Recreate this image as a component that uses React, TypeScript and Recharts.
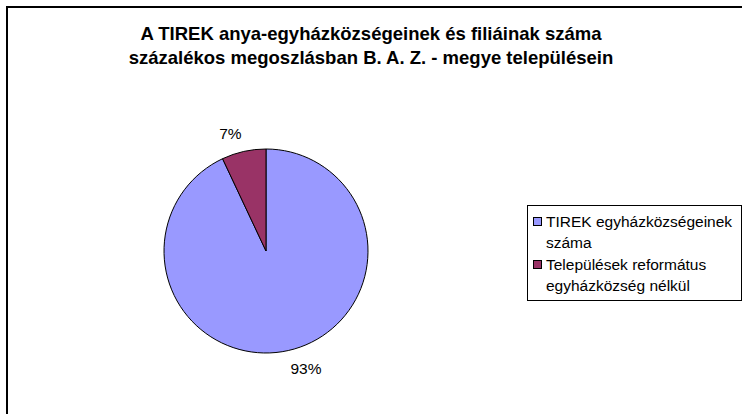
import { Legend, Pie, PieChart, Cell } from "recharts";

const categories = ["TIREK egyházközségeinek száma", "Települések református egyházközség nélkül"];
const values = [93, 7];
const colors = ["#9999FF", "#993366"];
const titleLines = [
	"A TIREK anya-egyházközségeinek és filiáinak száma",
	"százalékos megoszlásban B. A. Z. - megye településein",
];

const data = categories.map((name, i) => ({ name, value: values[i] }));

const FONT = "'Liberation Sans', Arial, sans-serif";
const LABEL_SIZE = 15.5;

const RADIAN = Math.PI / 180;

// excel style: label box sits outside the pie, its nearest corner on the mid-angle ray
const renderLabel = (props: any) => {
	const { cx, cy, midAngle, outerRadius, value } = props;
	const text = `${value}%`;
	const w = (text.length - 1) * 0.556 * LABEL_SIZE + 0.889 * LABEL_SIZE;
	const h = LABEL_SIZE;
	const cos = Math.cos(-midAngle * RADIAN);
	const sin = Math.sin(-midAngle * RADIAN);
	const r = outerRadius + 10;
	const x = cx + r * cos + Math.sign(cos) * (w / 2);
	const y = cy + r * sin + Math.sign(sin) * (h / 2);
	return (
		<text
			x={x}
			y={y}
			textAnchor="middle"
			dominantBaseline="central"
			fontFamily={FONT}
			fontSize={LABEL_SIZE}
			fill="#000"
		>
			{text}
		</text>
	);
};

const renderLegend = () => (
	<div
		style={{
			border: "1px solid #000",
			background: "#fff",
			padding: "5px 0 4px 5px",
			fontFamily: FONT,
			fontSize: 15.5,
			lineHeight: "21px",
			color: "#000",
			boxSizing: "border-box",
			width: 215,
		}}
	>
		{data.map((d, i) => (
			<div key={d.name} style={{ display: "flex", alignItems: "flex-start", marginBottom: i === 0 ? 1 : 0 }}>
				<span
					style={{
						display: "inline-block",
						width: 7,
						height: 7,
						background: colors[i],
						border: "1px solid #000",
						marginTop: 6,
						marginRight: 4,
						flexShrink: 0,
					}}
				/>
				<span style={{ width: 195 }}>{d.name}</span>
			</div>
		))}
	</div>
);

export default function App() {
	return (
		<div
			style={{
				position: "absolute",
				left: 0,
				top: 0,
				width: 742,
				height: 414,
				overflow: "hidden",
				background: "#fff",
			}}
		>
			<div
				style={{
					position: "absolute",
					left: 6,
					top: 6,
					width: 800,
					height: 500,
					borderTop: "2px solid #000",
					borderLeft: "2px solid #000",
				}}
			/>
			<div
				style={{
					position: "absolute",
					left: 0,
					top: 22,
					width: 742,
					textAlign: "center",
					fontFamily: FONT,
					fontWeight: "bold",
					fontSize: 18.5,
					lineHeight: "24px",
					color: "#000",
				}}
			>
				{titleLines.map((t) => (
					<div key={t}>{t}</div>
				))}
			</div>
			<div style={{ position: "absolute", left: 0, top: 0 }}>
				<PieChart width={742} height={414} margin={{ top: 0, right: 0, bottom: 0, left: 0 }}>
					<Pie
						data={data}
						dataKey="value"
						nameKey="name"
						cx={266}
						cy={251}
						outerRadius={102}
						startAngle={90}
						endAngle={-270}
						stroke="#000"
						strokeWidth={1}
						label={renderLabel}
						labelLine={false}
						isAnimationActive={false}
					>
						{data.map((d, i) => (
							<Cell key={d.name} fill={colors[i]} />
						))}
					</Pie>
					<Legend
						content={renderLegend}
						wrapperStyle={{ left: 527, top: 205, width: 215 }}
					/>
				</PieChart>
			</div>
		</div>
	);
}
